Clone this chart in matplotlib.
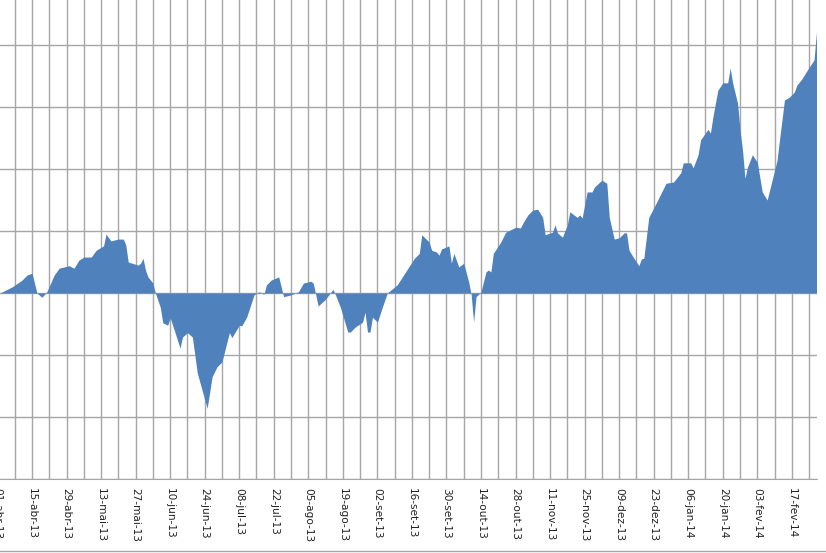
import numpy as np
import pandas as pd
import matplotlib
matplotlib.use("Agg")
import matplotlib.pyplot as plt
import matplotlib.dates as mdates
from matplotlib.lines import Line2D

# values (grid step = 5 units)
dates = [
    '2013-04-02', '2013-04-07', '2013-04-11', '2013-04-13', '2013-04-15', '2013-04-16', '2013-04-17', '2013-04-19',
    '2013-04-21', '2013-04-24', '2013-04-26', '2013-04-30', '2013-05-02', '2013-05-04', '2013-05-06', '2013-05-09',
    '2013-05-11', '2013-05-14', '2013-05-15', '2013-05-17', '2013-05-20', '2013-05-22', '2013-05-23', '2013-05-24',
    '2013-05-28', '2013-05-29', '2013-05-30', '2013-05-31', '2013-06-01', '2013-06-03', '2013-06-04', '2013-06-06',
    '2013-06-07', '2013-06-09', '2013-06-10', '2013-06-12', '2013-06-14', '2013-06-15', '2013-06-17', '2013-06-19',
    '2013-06-21', '2013-06-25', '2013-06-27', '2013-06-29', '2013-07-01', '2013-07-04', '2013-07-05', '2013-07-08',
    '2013-07-09', '2013-07-11', '2013-07-14', '2013-07-16', '2013-07-18', '2013-07-19', '2013-07-21', '2013-07-24',
    '2013-07-26', '2013-07-29', '2013-08-01', '2013-08-03', '2013-08-06', '2013-08-07', '2013-08-09', '2013-08-12',
    '2013-08-15', '2013-08-16', '2013-08-18', '2013-08-21', '2013-08-22', '2013-08-24', '2013-08-27', '2013-08-28',
    '2013-08-29', '2013-08-30', '2013-08-31', '2013-09-02', '2013-09-04', '2013-09-06', '2013-09-10', '2013-09-17',
    '2013-09-19', '2013-09-20', '2013-09-23', '2013-09-24', '2013-09-26', '2013-09-27', '2013-09-28', '2013-10-01',
    '2013-10-02', '2013-10-03', '2013-10-05', '2013-10-07', '2013-10-09', '2013-10-10', '2013-10-11', '2013-10-12',
    '2013-10-14', '2013-10-16', '2013-10-17', '2013-10-18', '2013-10-19', '2013-10-22', '2013-10-24', '2013-10-26',
    '2013-10-28', '2013-10-30', '2013-10-31', '2013-11-02', '2013-11-04', '2013-11-06', '2013-11-08', '2013-11-09',
    '2013-11-12', '2013-11-13', '2013-11-14', '2013-11-16', '2013-11-18', '2013-11-19', '2013-11-22', '2013-11-23',
    '2013-11-24', '2013-11-25', '2013-11-26', '2013-11-28', '2013-11-29', '2013-12-02', '2013-12-04', '2013-12-05',
    '2013-12-07', '2013-12-09', '2013-12-11', '2013-12-12', '2013-12-13', '2013-12-15', '2013-12-17', '2013-12-18',
    '2013-12-19', '2013-12-21', '2013-12-24', '2013-12-28', '2013-12-31', '2014-01-03', '2014-01-04', '2014-01-07',
    '2014-01-08', '2014-01-10', '2014-01-11', '2014-01-14', '2014-01-15', '2014-01-16', '2014-01-18', '2014-01-20',
    '2014-01-22', '2014-01-23', '2014-01-24', '2014-01-26', '2014-01-27', '2014-01-28', '2014-01-29', '2014-01-30',
    '2014-02-01', '2014-02-03', '2014-02-04', '2014-02-05', '2014-02-07', '2014-02-09', '2014-02-11', '2014-02-12',
    '2014-02-14', '2014-02-16', '2014-02-18', '2014-02-19', '2014-02-21', '2014-02-24', '2014-02-26', '2014-02-27',
]
values = [
    0.0, 0.5, 1.05, 1.45, 1.6, 0.8, 0.0, -0.35,
    0.1, 1.45, 2.0, 2.2, 2.0, 2.65, 2.9, 2.9,
    3.45, 3.8, 4.75, 4.2, 4.35, 4.35, 3.9, 2.5,
    2.25, 2.4, 2.8, 1.85, 1.3, 0.8, 0.0, -1.15,
    -2.4, -2.6, -2.0, -3.2, -4.45, -3.55, -3.2, -3.55,
    -6.45, -9.3, -6.75, -5.95, -5.55, -3.2, -3.6, -2.6,
    -2.65, -1.95, -0.15, 0.1, -0.1, 0.65, 1.05, 1.3,
    -0.3, -0.15, 0.1, 0.8, 0.95, 0.8, -1.05, -0.5,
    0.3, -0.15, -1.15, -3.15, -3.15, -2.75, -2.35, -1.55,
    -3.15, -3.15, -1.95, -2.35, -1.15, 0.0, 0.65, 2.8,
    3.2, 4.7, 4.1, 3.45, 3.3, 3.05, 3.55, 3.8,
    2.4, 3.2, 2.1, 2.4, 0.9, -0.1, -2.35, -0.3,
    0.1, 1.7, 1.85, 1.7, 3.2, 4.1, 4.9, 5.1,
    5.3, 5.25, 5.65, 6.3, 6.7, 6.75, 6.1, 4.7,
    4.9, 5.5, 4.85, 4.5, 5.5, 6.55, 6.1, 6.3,
    6.05, 7.1, 8.15, 8.15, 8.55, 9.1, 8.85, 6.1,
    4.35, 4.45, 4.85, 4.85, 3.45, 2.8, 2.2, 2.75,
    2.8, 6.1, 7.25, 8.85, 8.95, 9.7, 10.5, 10.5,
    10.1, 11.15, 12.35, 13.2, 12.9, 14.2, 16.35, 16.95,
    16.95, 18.15, 16.95, 15.3, 13.15, 11.55, 9.25, 10.15,
    11.15, 10.55, 9.35, 8.15, 7.5, 9.1, 10.7, 12.35,
    15.55, 15.8, 16.2, 16.75, 17.25, 18.2, 18.8, 21.05,
]

tick_dates = pd.date_range('2013-04-08', '2014-02-24', freq='7D')
label_list = ['15-abr-13', '29-abr-13', '13-mai-13', '27-mai-13', '10-jun-13', '24-jun-13',
              '08-jul-13', '22-jul-13', '05-ago-13', '19-ago-13', '02-set-13', '16-set-13',
              '30-set-13', '14-out-13', '28-out-13', '11-nov-13', '25-nov-13', '09-dez-13',
              '23-dez-13', '06-jan-14', '20-jan-14', '03-fev-14', '17-fev-14']
first_label = '01-abr-13'

x = pd.to_datetime(dates)
y = np.array(values)

fig = plt.figure(figsize=(8.26, 5.53), dpi=100)
ax = fig.add_axes([0, 74 / 553, 817 / 826, 479 / 553])

ax.fill_between(x, y, 0, color='#4F81BD', linewidth=0, zorder=3)

base = mdates.date2num(pd.Timestamp('2013-04-15'))
ax.set_xlim(base - 12.97, base + 318.2)
ax.set_ylim(-15, 23.63)

# weekly grid, labels every second week
ticklabels = []
for i, d in enumerate(tick_dates):
    ticklabels.append(label_list[i // 2] if i % 2 == 1 else '')
ax.set_xticks(tick_dates)
ax.set_xticklabels(ticklabels, rotation=270, fontsize=7.6, color='#222222')
ax.set_yticks(np.arange(-15, 21, 5))
ax.set_yticklabels([])
ax.tick_params(axis='both', length=0)
ax.tick_params(axis='x', pad=6.5)
ax.grid(True, color='#A6A6A6', linewidth=1.0, zorder=0)
ax.set_axisbelow(True)

for s in ['top', 'left', 'right']:
    ax.spines[s].set_visible(False)
ax.spines['bottom'].set_color('#A6A6A6')

# label of the first date, partly cut by the left edge
ax.annotate(first_label, xy=(mdates.date2num(pd.Timestamp('2013-04-01')), 0),
            xycoords=ax.get_xaxis_transform(), xytext=(0, -6.5), textcoords='offset points',
            rotation=270, ha='center', va='top', fontsize=7.6, color='#222222',
            annotation_clip=False)

fig.add_artist(Line2D([0, 1], [2 / 553, 2 / 553], color='#A6A6A6', linewidth=1.0))

fig.savefig('out.png', dpi=100)
